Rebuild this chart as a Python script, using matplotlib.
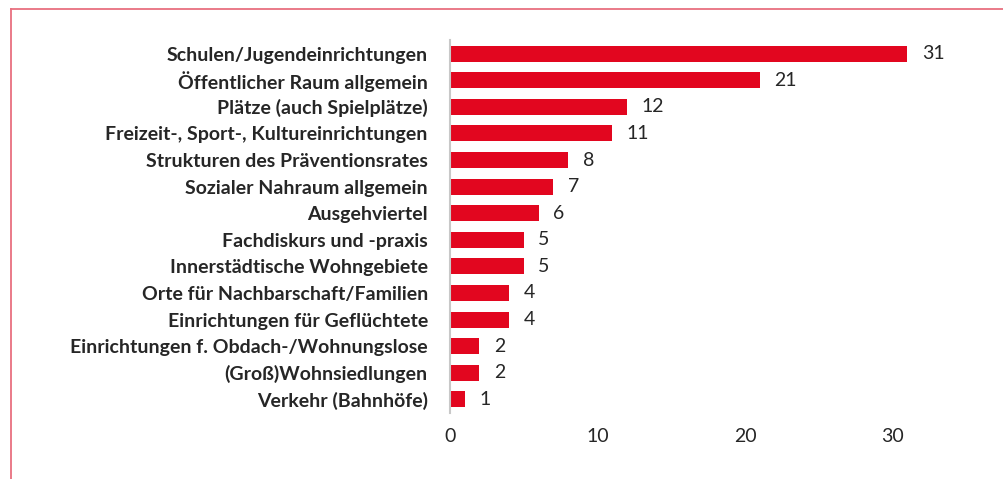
import matplotlib
matplotlib.use('Agg')
import matplotlib.pyplot as plt
from matplotlib.lines import Line2D

# ── Data ───────────────────────────────────────────────────────────────────
categories = [
    'Schulen/Jugendeinrichtungen',
    'Öffentlicher Raum allgemein',
    'Plätze (auch Spielplätze)',
    'Freizeit-, Sport-, Kultureinrichtungen',
    'Strukturen des Präventionsrates',
    'Sozialer Nahraum allgemein',
    'Ausgehviertel',
    'Fachdiskurs und -praxis',
    'Innerstädtische Wohngebiete',
    'Orte für Nachbarschaft/Familien',
    'Einrichtungen für Geflüchtete',
    'Einrichtungen f. Obdach-/Wohnungslose',
    '(Groß)Wohnsiedlungen',
    'Verkehr (Bahnhöfe)',
]
counts = [31, 21, 12, 11, 8, 7, 6, 5, 5, 4, 4, 2, 2, 1]
x_ticks = [0, 10, 20, 30]

# ── Style ──────────────────────────────────────────────────────────────────
BAR_COLOR = '#e2061f'
FRAME_COLOR = '#e8707f'
AXIS_COLOR = '#c8c8c8'
TEXT_COLOR = '#262626'
FONT = 'Lato'
FS = 14

W, H = 1004, 479
fig = plt.figure(figsize=(W / 100, H / 100), dpi=100)
fig.patch.set_facecolor('white')

# axes placed in pixel terms
x0, y_top, y_bot = 450, 40.4, 412.6
px_per_unit = 14.75
xmax = 37
ax = fig.add_axes([x0 / W, 1 - y_bot / H,
                   xmax * px_per_unit / W, (y_bot - y_top) / H])

ypos = list(range(len(categories)))
ax.barh(ypos, counts, height=0.6, color=BAR_COLOR, zorder=2)
ax.set_ylim(len(categories) - 0.5, -0.5)
ax.set_xlim(0, xmax)

for y, v in zip(ypos, counts):
    ax.annotate(str(v), (v, y), xytext=(10.5, 0), textcoords='offset points',
                ha='left', va='center', fontsize=FS, color=TEXT_COLOR,
                family=FONT)

ax.set_yticks(ypos)
ax.set_yticklabels(categories, fontsize=FS, fontweight='bold',
                   color=TEXT_COLOR, family=FONT)
ax.set_xticks(x_ticks)
ax.set_xticklabels([str(t) for t in x_ticks], fontsize=FS,
                   color=TEXT_COLOR, family=FONT)
ax.tick_params(axis='both', length=0)
ax.tick_params(axis='y', pad=16)
ax.tick_params(axis='x', pad=11)

for side in ('top', 'right', 'bottom'):
    ax.spines[side].set_visible(False)
ax.spines['left'].set_color(AXIS_COLOR)
ax.spines['left'].set_linewidth(1.5)

# outer frame (top and left edges visible)
fig.add_artist(Line2D([11 / W, 1.0], [1 - 9 / H, 1 - 9 / H],
                      color=FRAME_COLOR, linewidth=1.3))
fig.add_artist(Line2D([11 / W, 11 / W], [0, 1 - 9 / H],
                      color=FRAME_COLOR, linewidth=1.3))

fig.savefig('out.png', dpi=100)
